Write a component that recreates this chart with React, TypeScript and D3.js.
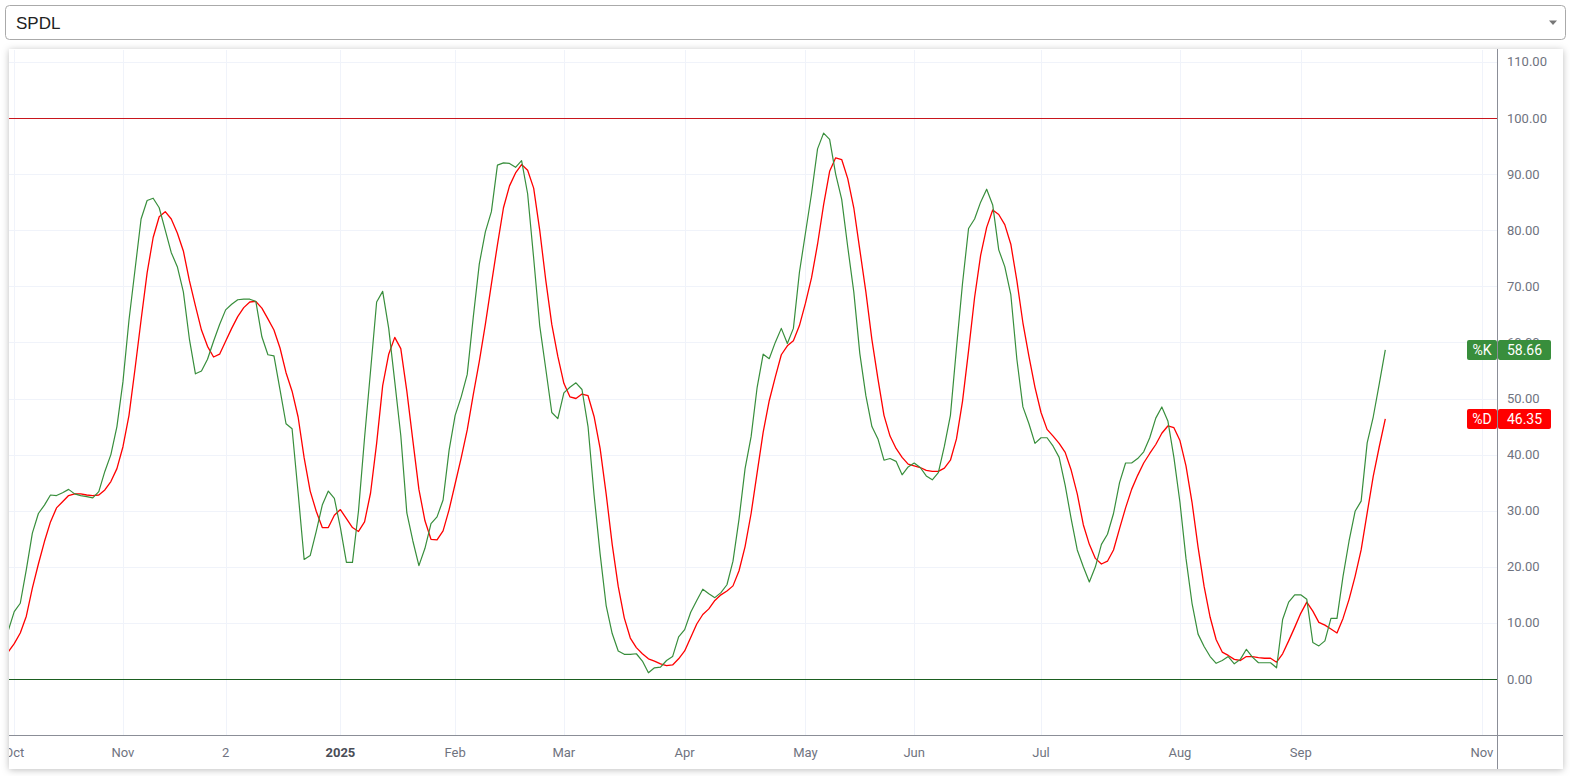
import React, { useEffect, useRef } from 'react';
import * as d3 from 'd3';

// %K (fast stochastic) readings, one per trading bar
const kValues: number[] = [
  8.6, 12, 13.5, 19.5, 26, 29.5, 31, 32.8, 32.7, 33.2,
  33.8, 33, 32.7, 32.5, 32.3, 33.4, 37, 40, 45, 53,
  64, 73, 82, 85.3, 85.7, 84, 80, 76, 73.5, 69,
  60.6, 54.4, 54.9, 57, 60.2, 63.2, 65.8, 66.8, 67.6, 67.7,
  67.7, 67.3, 61, 57.8, 57.6, 51.6, 45.5, 44.6, 33.2, 21.3,
  22, 26.3, 31, 33.5, 32.2, 27, 20.8, 20.8, 30, 43,
  55, 67.2, 69.1, 62.5, 53, 43.4, 29.6, 24.6, 20.2, 23.3,
  27.7, 28.9, 31.9, 40.8, 47, 50.3, 54.3, 64.5, 74, 79.7,
  83.3, 91.6, 92, 91.9, 91.2, 92.4, 86.5, 75, 63, 55.3,
  47.5, 46.4, 51, 52, 52.8, 51.6, 45, 32.8, 22.3, 13.1,
  8.1, 5, 4.4, 4.4, 4.5, 3.2, 1.1, 2, 2.1, 3.3,
  4, 7.5, 8.8, 11.9, 14, 16, 15.2, 14.5, 15.4, 16.8,
  21, 28.5, 37.5, 43.2, 52, 57.9, 57.1, 60, 62.5, 59.8,
  62.5, 72.5, 79.5, 86.5, 94.5, 97.3, 96.2, 90, 85.5, 77,
  69, 58, 50.5, 45, 42.8, 39, 39.3, 38.8, 36.4, 37.8,
  38.5, 37.7, 36.2, 35.5, 36.8, 41.5, 47, 59, 70.5, 80.3,
  82, 85, 87.3, 84.5, 76.5, 73.5, 68.5, 57, 48.5, 45.5,
  42, 43, 43, 41.5, 39.5, 34.5, 28.5, 23, 20, 17.3,
  20, 24, 25.8, 29.5, 35, 38.5, 38.5, 39.3, 40.5, 43,
  46.5, 48.5, 46, 39.5, 31.5, 21.5, 13.5, 8, 5.8, 4,
  2.8, 3.3, 4, 2.7, 3.5, 5.3, 3.9, 2.9, 2.9, 2.9,
  2, 10.6, 13.7, 15, 15, 14.2, 6.5, 5.9, 6.8, 10.8,
  10.8, 18.3, 24.6, 29.9, 31.7, 42.1, 46.7, 52.6, 58.66,
];

// %D (signal) readings, same bars
const dValues: number[] = [
  4.8, 6.3, 8.2, 11.2, 16.2, 20.5, 24.5, 28, 30.5, 31.6,
  32.7, 33, 33, 32.8, 32.7, 32.8, 33.7, 35.2, 37.5, 41.4,
  47, 55.3, 64, 72.4, 78.7, 82.4, 83.3, 82, 79.5, 76.3,
  71, 66.5, 62.2, 59.3, 57.4, 57.9, 60.2, 62.5, 64.6, 66.2,
  67.2, 67.3, 66.1, 64.2, 62.2, 59, 54.6, 51.3, 46.7, 39.4,
  33.5, 29.9, 27, 27, 29.2, 30.2, 28.6, 27, 26.3, 28,
  33.2, 42, 52.3, 57.9, 60.9, 58.9, 51.3, 42.5, 33.8, 28.2,
  24.9, 24.8, 26.4, 30.2, 34.8, 39.4, 44.4, 50.7, 56.6, 63.2,
  70.4, 77.4, 84, 87.9, 90.2, 91.7, 90.7, 87.5, 80, 71.1,
  63.2, 57.5, 52.7, 50.3, 50, 50.8, 50.5, 46.8, 41.1, 33,
  24, 16.5, 10.9, 7.3, 5.6, 4.5, 3.6, 3.2, 2.7, 2.4,
  2.5, 3.6, 5, 7.4, 9.8, 11.5, 12.5, 14, 15, 15.7,
  16.6, 19.3, 23.6, 29.5, 36.8, 44, 49.6, 53.8, 57.8, 59.4,
  60.3, 63, 67, 71.5, 77.5, 84.5, 90.5, 92.9, 92.6, 89.2,
  84, 76.5, 69, 60.5, 53.5, 47, 43.3, 41.1, 39.5, 38.3,
  38, 37.7, 37.2, 37, 37, 37.6, 39, 42.8, 49.5, 58.5,
  68, 75.5, 80.5, 83.6, 82.8, 81, 77.5, 71, 63.5, 57.5,
  52, 47.5, 44.5, 43.3, 42, 40.4, 37.2, 33, 27.5, 24,
  21.5, 20.5, 21, 23, 26.8, 30.5, 33.8, 36.3, 38.5, 40.2,
  41.8, 43.8, 45.1, 44.8, 42.5, 38, 31.5, 23.5, 16.5, 11,
  7, 4.8, 4.2, 3.5, 3.3, 4, 4, 3.8, 3.7, 3.7,
  3, 4.5, 6.8, 9.2, 11.7, 13.7, 12.1, 10.1, 9.6, 8.9,
  8.2, 10.8, 14.2, 18.3, 23, 29.6, 36.1, 41.4, 46.35,
];

// time axis labels and the bar index they sit on
const tickLabels: string[] = ['Oct', 'Nov', '2', '2025', 'Feb', 'Mar', 'Apr', 'May', 'Jun', 'Jul', 'Aug', 'Sep', 'Nov'];
const tickIndex: number[] = [1, 19, 36, 55, 74, 92, 112, 132, 150, 171, 194, 214, 244];

const yTicks: number[] = [0, 10, 20, 30, 40, 50, 60, 70, 80, 90, 100, 110];

const symbol = 'SPDL';

const App: React.FC = () => {
    const chartRef = useRef<SVGSVGElement>(null);

    useEffect(() => {
        if (!chartRef.current) return;
        const svg = d3.select(chartRef.current);
        svg.selectAll('*').remove();

        const font = 'Roboto, "Noto Sans", sans-serif';
        const card = { left: 9, top: 49, right: 1563, bottom: 769 };
        const plot = { left: 9, top: 50, right: 1497, bottom: 735 };
        const axisColor = '#8b8e97';
        const textColor = '#6f7380';
        const gridColor = '#f0f3fa';
        const kColor = '#388e3c';
        const dColor = '#ff0000';

        const xScale = d3.scaleLinear().domain([0, 228]).range([8.2, 1385.3]);
        const yScale = d3.scaleLinear().domain([0, 100]).range([679, 118]);

        const defs = svg.append('defs');
        const shadow = defs.append('filter').attr('id', 'card-shadow')
            .attr('x', '-5%').attr('y', '-5%').attr('width', '110%').attr('height', '110%');
        shadow.append('feDropShadow')
            .attr('dx', 0).attr('dy', 1).attr('stdDeviation', 3.5)
            .attr('flood-color', '#000').attr('flood-opacity', 0.26);
        defs.append('clipPath').attr('id', 'plot-clip').append('rect')
            .attr('x', plot.left).attr('y', plot.top)
            .attr('width', plot.right - plot.left).attr('height', plot.bottom - plot.top);
        defs.append('clipPath').attr('id', 'card-clip').append('rect')
            .attr('x', card.left).attr('y', card.top)
            .attr('width', card.right - card.left).attr('height', card.bottom - card.top);

        // Symbol dropdown
        svg.append('rect')
            .attr('x', 5.5).attr('y', 5.5).attr('width', 1560).attr('height', 34).attr('rx', 4)
            .attr('fill', '#fff').attr('stroke', '#aaa');
        svg.append('text')
            .attr('x', 16).attr('y', 28.5)
            .attr('font-family', '"Liberation Sans", Arial, sans-serif')
            .attr('font-size', '17px').attr('fill', '#222')
            .text(symbol);
        svg.append('path').attr('d', 'M1549,20.5 L1557,20.5 L1553,25 Z').attr('fill', '#777');

        // Chart card
        svg.append('rect')
            .attr('x', card.left).attr('y', card.top)
            .attr('width', card.right - card.left).attr('height', card.bottom - card.top)
            .attr('fill', '#fff').attr('filter', 'url(#card-shadow)');

        const inner = svg.append('g').attr('clip-path', 'url(#card-clip)');

        // Grid
        inner.selectAll('line.hgrid').data(yTicks).enter().append('line')
            .attr('x1', plot.left).attr('x2', plot.right)
            .attr('y1', d => Math.round(yScale(d)) + 0.5).attr('y2', d => Math.round(yScale(d)) + 0.5)
            .attr('stroke', gridColor);
        inner.selectAll('line.vgrid').data(tickIndex).enter().append('line')
            .attr('x1', d => Math.round(xScale(d)) + 0.5).attr('x2', d => Math.round(xScale(d)) + 0.5)
            .attr('y1', plot.top).attr('y2', plot.bottom)
            .attr('stroke', gridColor);

        // Overbought / oversold bounds
        inner.append('line')
            .attr('x1', plot.left).attr('x2', plot.right)
            .attr('y1', Math.round(yScale(100)) + 0.5).attr('y2', Math.round(yScale(100)) + 0.5)
            .attr('stroke', '#c8161d');
        inner.append('line')
            .attr('x1', plot.left).attr('x2', plot.right)
            .attr('y1', Math.round(yScale(0)) + 0.5).attr('y2', Math.round(yScale(0)) + 0.5)
            .attr('stroke', '#1b5e20');

        // Series
        const line = d3.line<number>().x((_, i) => xScale(i)).y(d => yScale(d));
        const lines = inner.append('g').attr('clip-path', 'url(#plot-clip)');
        lines.append('path').datum(dValues)
            .attr('d', line).attr('fill', 'none').attr('stroke', dColor).attr('stroke-width', 1.3)
            .attr('stroke-linejoin', 'round');
        lines.append('path').datum(kValues)
            .attr('d', line).attr('fill', 'none').attr('stroke', kColor).attr('stroke-width', 1.2)
            .attr('stroke-linejoin', 'round');

        // Price scale labels
        inner.selectAll('text.y-label').data(yTicks).enter().append('text')
            .attr('x', 1507).attr('y', d => yScale(d))
            .attr('dy', '0.35em')
            .attr('font-family', font).attr('font-size', '13px').attr('fill', textColor)
            .text(d => d.toFixed(2));

        // Time scale labels
        inner.selectAll('text.x-label').data(tickLabels).enter().append('text')
            .attr('x', (_, i) => xScale(tickIndex[i]))
            .attr('y', 752).attr('dy', '0.35em')
            .attr('text-anchor', 'middle')
            .attr('font-family', font).attr('font-size', '13px')
            .attr('font-weight', d => (d === '2025' ? 'bold' : 'normal'))
            .attr('fill', d => (d === '2025' ? '#4a4d57' : textColor))
            .text(d => d);

        // Last value badges
        const badges = [
            { name: '%K', value: kValues[kValues.length - 1], color: kColor },
            { name: '%D', value: dValues[dValues.length - 1], color: dColor },
        ];
        badges.forEach(b => {
            const cy = yScale(b.value);
            inner.append('rect')
                .attr('x', 1467).attr('y', cy - 10).attr('width', 30).attr('height', 20).attr('rx', 2)
                .attr('fill', b.color);
            inner.append('rect')
                .attr('x', 1498).attr('y', cy - 10).attr('width', 53).attr('height', 20).attr('rx', 2)
                .attr('fill', b.color);
            inner.append('text')
                .attr('x', 1482).attr('y', cy).attr('dy', '0.35em').attr('text-anchor', 'middle')
                .attr('font-family', font).attr('font-size', '14px').attr('fill', '#fff')
                .text(b.name);
            inner.append('text')
                .attr('x', 1524.5).attr('y', cy).attr('dy', '0.35em').attr('text-anchor', 'middle')
                .attr('font-family', font).attr('font-size', '14px').attr('fill', '#fff')
                .text(b.value.toFixed(2));
        });

        // Axis borders
        inner.append('line')
            .attr('x1', 1497.5).attr('x2', 1497.5).attr('y1', card.top).attr('y2', card.bottom)
            .attr('stroke', axisColor);
        inner.append('line')
            .attr('x1', card.left).attr('x2', card.right).attr('y1', plot.bottom + 0.5).attr('y2', plot.bottom + 0.5)
            .attr('stroke', axisColor);
    }, []);

    return (
        <svg
            ref={chartRef}
            width={1570}
            height={776}
            style={{ position: 'absolute', left: 0, top: 0, background: '#fff' }}
        />
    );
};

export default App;
